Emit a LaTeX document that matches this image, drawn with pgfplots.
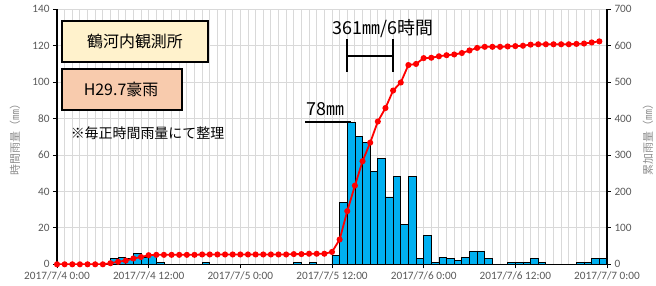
\documentclass[border=0pt]{standalone}
\usepackage{fontspec}
\setmainfont{Carlito}
\newfontfamily\jp{Noto Sans CJK JP}
\usepackage{pgfplots}
\usepackage{pgfplotstable}
\pgfplotsset{compat=1.18}
\definecolor{tickgray}{HTML}{595959}
\definecolor{labgray}{HTML}{8C8C8C}
\definecolor{barblue}{HTML}{00B0F0}
\definecolor{boxone}{HTML}{FFF2CC}
\definecolor{boxtwo}{HTML}{F8CBAD}
\definecolor{gridgray}{HTML}{D9D9D9}
\definecolor{linered}{HTML}{FF0000}

% hourly rainfall (bar for hour t drawn over [t, t+1])
\pgfplotstableread{
t r
7 3
8 4
9 3
10 6
11 4
12 5
13 1
19 1
31 1
33 1
36 5
37 34
38 78
39 70
40 67
41 51
42 58
43 37
44 48
45 22
46 48
47 3
48 16
49 1
50 4
51 3
52 2
53 4
54 7
55 7
56 3
59 1
60 1
61 1
62 3
63 1
68 1
69 1
70 3
71 3
}\hourly

% cumulative rainfall
\pgfplotstableread{
t c
0 0
1 0
2 0
3 0
4 0
5 0
6 0
7 3
8 7
9 10
10 16
11 20
12 25
13 26
14 26
15 26
16 26
17 26
18 26
19 27
20 27
21 27
22 27
23 27
24 27
25 27
26 27
27 27
28 27
29 27
30 27
31 28
32 28
33 29
34 29
35 29
36 34
37 68
38 146
39 216
40 283
41 334
42 392
43 429
44 477
45 499
46 547
47 550
48 566
49 567
50 571
51 574
52 576
53 580
54 587
55 594
56 597
57 597
58 597
59 598
60 599
61 600
62 603
63 604
64 604
65 604
66 604
67 604
68 605
69 606
70 609
71 612
}\cumul

\begin{document}
\begin{tikzpicture}
\path[use as bounding box] (-57bp,-21.7bp) rectangle (599bp,264.3bp);
\begin{axis}[
  scale only axis, width=550bp, height=255bp,
  xmin=0, xmax=72, ymin=0, ymax=140,
  axis x line*=bottom, axis y line*=left,
  axis line style={-, line width=1.5bp, black},
  xtick={0,12,...,72},
  xticklabels={2017/7/4 0:00,2017/7/4 12:00,2017/7/5 0:00,2017/7/5 12:00,2017/7/6 0:00,2017/7/6 12:00,2017/7/7 0:00},
  minor x tick num=11,
  ytick={0,20,...,140},
  xmajorgrids, xminorgrids, ymajorgrids,
  grid style={gridgray, line width=0.9bp},
  minor grid style={gridgray, line width=0.9bp},
  tick align=outside,
  major tick length=4bp, minor tick length=0pt,
  tick style={black, line width=0.8bp},
  /pgf/number format/assume math mode=true,
  ticklabel style={font=\fontsize{11.3}{12}\selectfont, text=tickgray},
  ylabel={\jp 時間雨量（㎜）},
  ylabel style={at={(axis description cs:-0.0764,0.5)}, anchor=center, font=\fontsize{11}{12}\selectfont, text=labgray},
  clip=false,
]
\addplot[ybar, bar width=1, bar shift=0pt, fill=barblue, draw=black, line width=0.8bp]
  table[x expr=\thisrow{t}+0.5, y=r] {\hourly};
% annotations
\draw[black, line width=2.4bp] (axis cs:32.5,78) -- (axis cs:38.5,78);
\node[font=\jp\fontsize{18}{20}\selectfont, anchor=south] at (axis cs:35.2,79.5) {78㎜};
\draw[black, line width=2.4bp] (axis cs:38,105.5) -- (axis cs:38,123.5);
\draw[black, line width=2.4bp] (axis cs:44,105.5) -- (axis cs:44,123.5);
\draw[black, line width=2.4bp] (axis cs:38,114.3) -- (axis cs:44,114.3);
\node[font=\jp\fontsize{18}{20}\selectfont] at (axis cs:42.7,129.5) {361㎜/6時間};
\end{axis}
\begin{axis}[
  scale only axis, width=550bp, height=255bp,
  xmin=0, xmax=72, ymin=0, ymax=700,
  axis x line=none, axis y line*=right,
  axis line style={-, line width=1.5bp, black},
  ytick={0,100,...,700},
  tick align=outside,
  major tick length=4bp,
  tick style={black, line width=0.8bp},
  /pgf/number format/assume math mode=true,
  ticklabel style={font=\fontsize{11.3}{12}\selectfont, text=tickgray},
  ylabel={\jp 累加雨量（㎜）},
  ylabel style={at={(axis description cs:1.0745,0.5)}, anchor=center, rotate=0, font=\fontsize{11}{12}\selectfont, text=labgray},
]
\addplot[linered, line width=1.8bp, mark=*, mark size=2.1bp, mark options={fill=linered, draw=linered}]
  table[x=t, y=c] {\cumul};
\end{axis}
% boxes
\draw[line width=2bp, fill=boxone] (5bp,202.3bp) rectangle (151bp,243.3bp);
\node[font=\jp\fontsize{16}{18}\selectfont] at (78bp,222.8bp) {鶴河内観測所};
\draw[line width=2bp, fill=boxtwo] (5bp,154.3bp) rectangle (125bp,195.3bp);
\node[font=\jp\fontsize{16}{18}\selectfont] at (64bp,174.8bp) {H29.7豪雨};
\node[font=\jp\fontsize{14}{16}\selectfont] at (90.5bp,131bp) {※毎正時間雨量にて整理};
\end{tikzpicture}
\end{document}
